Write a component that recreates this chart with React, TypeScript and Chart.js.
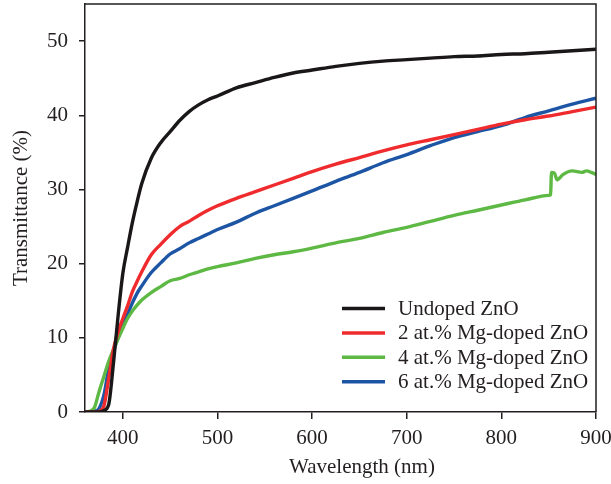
import React, { useEffect, useRef } from "react";
import { Chart, registerables } from "chart.js";

Chart.register(...registerables);

const wavelengths = [360, 365, 370, 375, 380, 385, 390, 395, 400, 405, 410, 415, 420, 430, 440, 450, 460, 470, 480, 490, 500, 520, 540, 560, 580, 600, 625, 650, 675, 700, 725, 750, 775, 800, 825, 850, 875, 900];
const undopedZnO = [0, 0, 0, 0, 0.2, 1.0, 6.5, 13, 18.7, 22.2, 25.5, 28.3, 30.8, 34.2, 36.3, 37.8, 39.3, 40.5, 41.4, 42.1, 42.6, 43.7, 44.4, 45.1, 45.7, 46.1, 46.6, 47.0, 47.3, 47.5, 47.7, 47.9, 48.0, 48.2, 48.3, 48.5, 48.7, 48.9];
const mg2ZnO = [0, 0, 0, 0.1, 0.8, 4.5, 8.4, 10.8, 12.6, 14.3, 16.2, 17.6, 18.9, 21.2, 22.6, 23.9, 25.0, 25.7, 26.5, 27.2, 27.8, 28.8, 29.7, 30.6, 31.5, 32.4, 33.4, 34.3, 35.2, 36.0, 36.7, 37.4, 38.1, 38.8, 39.4, 39.9, 40.5, 41.1];
const mg6ZnO = [0, 0, 0.1, 0.5, 2.3, 5.8, 8.2, 10.0, 11.6, 13.2, 14.7, 16.0, 17.0, 18.8, 20.1, 21.3, 22.0, 22.8, 23.4, 24.0, 24.6, 25.6, 26.8, 27.8, 28.8, 29.8, 31.1, 32.3, 33.6, 34.7, 35.9, 37.0, 37.8, 38.6, 39.7, 40.6, 41.5, 42.3];
const mg4Wavelengths = [360, 365, 370, 375, 380, 385, 390, 395, 400, 405, 410, 415, 420, 430, 440, 450, 460, 470, 480, 490, 500, 520, 540, 560, 580, 600, 625, 650, 675, 700, 725, 750, 775, 800, 825, 850, 852, 853, 856, 859, 865, 875, 885, 890, 895, 900];
const mg4ZnO = [0, 0.1, 0.6, 2.8, 4.8, 6.8, 8.4, 9.9, 11.3, 12.6, 13.6, 14.4, 15.1, 16.1, 16.9, 17.7, 18.0, 18.5, 18.9, 19.3, 19.6, 20.1, 20.7, 21.2, 21.6, 22.1, 22.8, 23.4, 24.2, 24.9, 25.7, 26.5, 27.2, 27.9, 28.6, 29.2, 29.3, 32.3, 32.2, 31.3, 32.0, 32.5, 32.3, 32.5, 32.3, 32.0];

const seriesLabels = ["Undoped ZnO", "2 at.% Mg-doped ZnO", "4 at.% Mg-doped ZnO", "6 at.% Mg-doped ZnO"];
const seriesColors = ["#1a1718", "#ef2b2d", "#5db944", "#1d55a5"];
const xTicks = [400, 500, 600, 700, 800, 900];
const yTicks = [0, 10, 20, 30, 40, 50];
const xTitle = "Wavelength (nm)";
const yTitle = "Transmittance (%)";

const INK = "#231f20";
const FONT = "'Liberation Serif', 'Times New Roman', serif";

const pts = (xs: number[], ys: number[]) => xs.map((x, i) => ({ x, y: ys[i] }));

const framePlugin = {
  id: "frameAndLegend",
  afterDraw(chart: any) {
    const { ctx, chartArea } = chart;
    const { left, right, top, bottom } = chartArea;
    ctx.save();
    ctx.strokeStyle = INK;
    ctx.lineWidth = 1.5;
    ctx.beginPath();
    ctx.moveTo(left, top);
    ctx.lineTo(right, top);
    ctx.lineTo(right, bottom);
    ctx.stroke();

    ctx.font = `21px ${FONT}`;
    ctx.textBaseline = "middle";
    ctx.textAlign = "left";
    const lx0 = left + 257;
    const lx1 = left + 300;
    const tx = left + 313;
    const y0 = top + 304.5;
    const dy = 24.4;
    chart.data.datasets.forEach((ds: any, i: number) => {
      const y = y0 + i * dy;
      ctx.strokeStyle = ds.borderColor;
      ctx.lineWidth = 3.5;
      ctx.beginPath();
      ctx.moveTo(lx0, y);
      ctx.lineTo(lx1, y);
      ctx.stroke();
      ctx.fillStyle = INK;
      ctx.fillText(ds.label, tx, y + 1);
    });

    ctx.textAlign = "center";
    ctx.fillStyle = INK;
    ctx.fillText(xTitle, left + 277, bottom + 55);
    ctx.restore();
  },
};

export default function App() {
  const ref = useRef<HTMLCanvasElement>(null);
  useEffect(() => {
    document.body.style.margin = "0";
    const ctx = ref.current!.getContext("2d")!;
    const sets = [
      pts(wavelengths, undopedZnO),
      pts(wavelengths, mg2ZnO),
      pts(mg4Wavelengths, mg4ZnO),
      pts(wavelengths, mg6ZnO),
    ];
    const chart = new Chart(ctx, {
      type: "line",
      data: {
        datasets: sets.map((d, i) => ({
          label: seriesLabels[i],
          data: d,
          borderColor: seriesColors[i],
          backgroundColor: seriesColors[i],
          borderWidth: 3.4,
          pointRadius: 0,
          cubicInterpolationMode: "monotone",
          fill: false,
        })),
      },
      options: {
        responsive: false,
        animation: false,
        layout: { padding: { top: 4, right: 15, left: 0, bottom: 0 } },
        plugins: { legend: { display: false }, tooltip: { enabled: false } },
        scales: {
          x: {
            type: "linear",
            min: 360,
            max: 900,
            afterBuildTicks: (s: any) => {
              s.ticks = xTicks.map((v) => ({ value: v }));
            },
            afterFit: (s: any) => {
              s.height = 72;
              s.paddingLeft = 0;
              s.paddingRight = 0;
            },
            grid: { drawOnChartArea: false, drawTicks: true, tickLength: 7, color: INK, lineWidth: 1.5 },
            border: { display: true, color: INK, width: 1.5 },
            ticks: { color: INK, font: { family: FONT, size: 21 }, padding: 7, maxRotation: 0 },
          },
          y: {
            type: "linear",
            min: 0,
            max: 55,
            afterBuildTicks: (s: any) => {
              s.ticks = yTicks.map((v) => ({ value: v }));
            },
            afterFit: (s: any) => {
              s.width = 85;
              s.paddingTop = 0;
              s.paddingBottom = 0;
            },
            grid: { drawOnChartArea: false, drawTicks: true, tickLength: 6, color: INK, lineWidth: 1.5 },
            border: { display: true, color: INK, width: 1.5 },
            ticks: { color: INK, font: { family: FONT, size: 21 }, padding: 11 },
            title: { display: true, text: yTitle, color: INK, font: { family: FONT, size: 21 }, padding: { top: 9, bottom: 0 } },
          },
        },
      },
      plugins: [framePlugin],
    });
    return () => chart.destroy();
  }, []);
  return (
    <div style={{ width: 611, height: 484 }}>
      <canvas ref={ref} width={611} height={484} style={{ display: "block" }} />
    </div>
  );
}
